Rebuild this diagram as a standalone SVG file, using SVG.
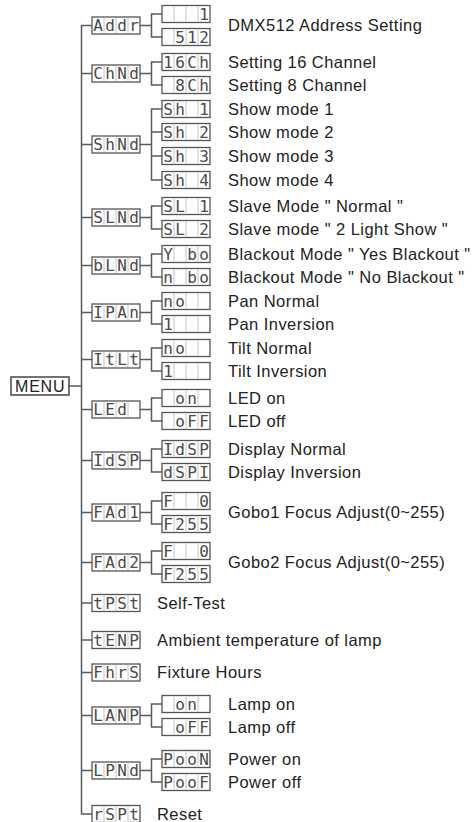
<svg xmlns="http://www.w3.org/2000/svg" xmlns:xlink="http://www.w3.org/1999/xlink" width="473" height="822" viewBox="0 0 473 822">
<style>
.bg{fill:#fff}
.box{fill:#fff;stroke:#555;stroke-width:1.3}
.dv{stroke:#c4c4c4;stroke-width:1;fill:none}
.conn{fill:none;stroke:#5a5a5a;stroke-width:1.5}
.lcd{font-family:"DejaVu Sans Mono","Liberation Mono",monospace;font-size:16px;fill:#4a4a4a;text-anchor:middle}
.lbl{font-family:"Liberation Sans",Arial,sans-serif;font-size:16.5px;letter-spacing:0.45px;fill:#222}
.menu{font-family:"Liberation Sans",Arial,sans-serif;font-size:16px;letter-spacing:0.8px;fill:#222}
</style>
<defs>
<g id="cell"><rect class="box" x="0" y="0" width="48" height="17"/><path class="dv" d="M12 1V16M24 1V16M36 1V16"/></g>
</defs>
<rect class="bg" width="473" height="822"/>

<g id="connectors">
<path class="conn" d="M69 386H81.5M92 25.5H81.5V814H92"/>
<path class="conn" d="M81.5 73.5H92M81.5 144.5H92M81.5 217.5H92M81.5 265.5H92M81.5 312.5H92M81.5 359.5H92M81.5 409.5H92M81.5 460.5H92M81.5 512.5H92M81.5 562.5H92M81.5 603H92M81.5 640H92M81.5 672.5H92M81.5 715.5H92M81.5 770.5H92"/>
<path class="conn" d="M140 25.5H151.5M162 14H151.5V37H162"/>
<path class="conn" d="M140 73.5H151.5M162 62H151.5V85H162"/>
<path class="conn" d="M140 144.5H151.5M162 109H151.5V180H162M151.5 132H162M151.5 156H162"/>
<path class="conn" d="M140 217.5H151.5M162 206H151.5V229H162"/>
<path class="conn" d="M140 265.5H151.5M162 254H151.5V277H162"/>
<path class="conn" d="M140 312.5H151.5M162 301H151.5V324H162"/>
<path class="conn" d="M140 359.5H151.5M162 348H151.5V371H162"/>
<path class="conn" d="M140 409.5H151.5M162 398H151.5V421H162"/>
<path class="conn" d="M140 460.5H151.5M162 449H151.5V472H162"/>
<path class="conn" d="M140 512.5H151.5M162 501H151.5V524H162"/>
<path class="conn" d="M140 562.5H151.5M162 551H151.5V574H162"/>
<path class="conn" d="M140 715.5H151.5M162 704H151.5V727H162"/>
<path class="conn" d="M140 770.5H151.5M162 759H151.5V782H162"/>
</g>

<g id="menu"><rect x="11" y="377" width="58" height="18" fill="#fff" stroke="#444" stroke-width="1.5"/><text class="menu" x="15" y="392">MENU</text></g>

<g id="addr"><use xlink:href="#cell" x="92" y="17"/><text class="lcd" x="98 110 122 134" y="31">Addr</text>
<use xlink:href="#cell" x="162" y="5.5"/><text class="lcd" x="204" y="19.5">1</text>
<use xlink:href="#cell" x="162" y="28.5"/><text class="lcd" x="180 192 204" y="42.5">512</text>
<text class="lbl" x="228" y="31.4">DMX512 Address Setting</text></g>

<g id="chnd"><use xlink:href="#cell" x="92" y="65"/><text class="lcd" x="98 110 122 134" y="79">ChNd</text>
<use xlink:href="#cell" x="162" y="53.5"/><text class="lcd" x="168 180 192 204" y="67.5">16Ch</text>
<use xlink:href="#cell" x="162" y="76.5"/><text class="lcd" x="180 192 204" y="90.5">8Ch</text>
<text class="lbl" x="228" y="67.9">Setting 16 Channel</text><text class="lbl" x="228" y="90.9">Setting 8 Channel</text></g>

<g id="shnd"><use xlink:href="#cell" x="92" y="136"/><text class="lcd" x="98 110 122 134" y="150">ShNd</text>
<use xlink:href="#cell" x="162" y="100.5"/><text class="lcd" x="168 180 192 204" y="114.5">Sh 1</text>
<use xlink:href="#cell" x="162" y="123.5"/><text class="lcd" x="168 180 192 204" y="137.5">Sh 2</text>
<use xlink:href="#cell" x="162" y="147.5"/><text class="lcd" x="168 180 192 204" y="161.5">Sh 3</text>
<use xlink:href="#cell" x="162" y="171.5"/><text class="lcd" x="168 180 192 204" y="185.5">Sh 4</text>
<text class="lbl" x="228" y="114.9">Show mode 1</text><text class="lbl" x="228" y="137.9">Show mode 2</text><text class="lbl" x="228" y="161.9">Show mode 3</text><text class="lbl" x="228" y="185.9">Show mode 4</text></g>

<g id="slnd"><use xlink:href="#cell" x="92" y="209"/><text class="lcd" x="98 110 122 134" y="223">SLNd</text>
<use xlink:href="#cell" x="162" y="197.5"/><text class="lcd" x="168 180 192 204" y="211.5">SL 1</text>
<use xlink:href="#cell" x="162" y="220.5"/><text class="lcd" x="168 180 192 204" y="234.5">SL 2</text>
<text class="lbl" x="228" y="211.9">Slave Mode " Normal "</text><text class="lbl" x="228" y="234.9">Slave mode " 2 Light Show "</text></g>

<g id="blnd"><use xlink:href="#cell" x="92" y="257"/><text class="lcd" x="98 110 122 134" y="271">bLNd</text>
<use xlink:href="#cell" x="162" y="245.5"/><text class="lcd" x="168 180 192 204" y="259.5">Y bo</text>
<use xlink:href="#cell" x="162" y="268.5"/><text class="lcd" x="168 180 192 204" y="282.5">n bo</text>
<text class="lbl" x="228" y="259.9">Blackout Mode " Yes Blackout "</text><text class="lbl" x="228" y="282.9">Blackout Mode " No Blackout "</text></g>

<g id="ipan"><use xlink:href="#cell" x="92" y="304"/><text class="lcd" x="98 110 122 134" y="318">IPAn</text>
<use xlink:href="#cell" x="162" y="292.5"/><text class="lcd" x="168 180" y="306.5">no</text>
<use xlink:href="#cell" x="162" y="315.5"/><text class="lcd" x="168" y="329.5">1</text>
<text class="lbl" x="228" y="306.9">Pan Normal</text><text class="lbl" x="228" y="329.9">Pan Inversion</text></g>

<g id="itlt"><use xlink:href="#cell" x="92" y="351"/><text class="lcd" x="98 110 122 134" y="365">ItLt</text>
<use xlink:href="#cell" x="162" y="339.5"/><text class="lcd" x="168 180" y="353.5">no</text>
<use xlink:href="#cell" x="162" y="362.5"/><text class="lcd" x="168" y="376.5">1</text>
<text class="lbl" x="228" y="353.9">Tilt Normal</text><text class="lbl" x="228" y="376.9">Tilt Inversion</text></g>

<g id="led"><use xlink:href="#cell" x="92" y="401"/><text class="lcd" x="98 110 122" y="415">LEd</text>
<use xlink:href="#cell" x="162" y="389.5"/><text class="lcd" x="180 192" y="403.5">on</text>
<use xlink:href="#cell" x="162" y="412.5"/><text class="lcd" x="180 192 204" y="426.5">oFF</text>
<text class="lbl" x="228" y="403.9">LED on</text><text class="lbl" x="228" y="426.9">LED off</text></g>

<g id="idsp"><use xlink:href="#cell" x="92" y="452"/><text class="lcd" x="98 110 122 134" y="466">IdSP</text>
<use xlink:href="#cell" x="162" y="440.5"/><text class="lcd" x="168 180 192 204" y="454.5">IdSP</text>
<use xlink:href="#cell" x="162" y="463.5"/><text class="lcd" x="168 180 192 204" y="477.5">dSPI</text>
<text class="lbl" x="228" y="454.9">Display Normal</text><text class="lbl" x="228" y="477.9">Display Inversion</text></g>

<g id="fad1"><use xlink:href="#cell" x="92" y="504"/><text class="lcd" x="98 110 122 134" y="518">FAd1</text>
<use xlink:href="#cell" x="162" y="492.5"/><text class="lcd" x="168 186 204" y="506.5">F 0</text>
<use xlink:href="#cell" x="162" y="515.5"/><text class="lcd" x="168 180 192 204" y="529.5">F255</text>
<text class="lbl" x="228" y="518.4">Gobo1 Focus Adjust(0~255)</text></g>

<g id="fad2"><use xlink:href="#cell" x="92" y="554"/><text class="lcd" x="98 110 122 134" y="568">FAd2</text>
<use xlink:href="#cell" x="162" y="542.5"/><text class="lcd" x="168 186 204" y="556.5">F 0</text>
<use xlink:href="#cell" x="162" y="565.5"/><text class="lcd" x="168 180 192 204" y="579.5">F255</text>
<text class="lbl" x="228" y="568.4">Gobo2 Focus Adjust(0~255)</text></g>

<g id="tpst"><use xlink:href="#cell" x="92" y="594.5"/><text class="lcd" x="98 110 122 134" y="608.5">tPSt</text>
<text class="lbl" x="157" y="608.9">Self-Test</text></g>

<g id="tenp"><use xlink:href="#cell" x="92" y="631.5"/><text class="lcd" x="98 110 122 134" y="645.5">tENP</text>
<text class="lbl" x="157" y="645.9">Ambient temperature of lamp</text></g>

<g id="fhrs"><use xlink:href="#cell" x="92" y="664"/><text class="lcd" x="98 110 122 134" y="678">FhrS</text>
<text class="lbl" x="157" y="678.4">Fixture Hours</text></g>

<g id="lanp"><use xlink:href="#cell" x="92" y="707"/><text class="lcd" x="98 110 122 134" y="721">LANP</text>
<use xlink:href="#cell" x="162" y="695.5"/><text class="lcd" x="180 192" y="709.5">on</text>
<use xlink:href="#cell" x="162" y="718.5"/><text class="lcd" x="180 192 204" y="732.5">oFF</text>
<text class="lbl" x="228" y="709.9">Lamp on</text><text class="lbl" x="228" y="732.9">Lamp off</text></g>

<g id="lpnd"><use xlink:href="#cell" x="92" y="762"/><text class="lcd" x="98 110 122 134" y="776">LPNd</text>
<use xlink:href="#cell" x="162" y="750.5"/><text class="lcd" x="168 180 192 204" y="764.5">PooN</text>
<use xlink:href="#cell" x="162" y="773.5"/><text class="lcd" x="168 180 192 204" y="787.5">PooF</text>
<text class="lbl" x="228" y="764.9">Power on</text><text class="lbl" x="228" y="787.9">Power off</text></g>

<g id="rspt"><use xlink:href="#cell" x="92" y="805.5"/><text class="lcd" x="98 110 122 134" y="819.5">rSPt</text>
<text class="lbl" x="157" y="819.9">Reset</text></g>
</svg>
